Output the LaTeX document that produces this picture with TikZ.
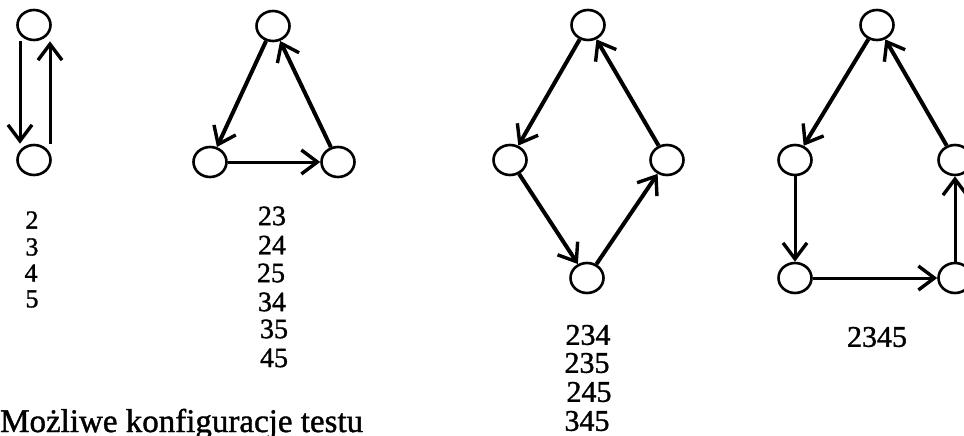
\documentclass[tikz,border=0pt]{standalone}
\usepackage{fontspec}
\setmainfont{Liberation Serif}
\newfontfamily\inkserif[FakeBold=1.2]{Liberation Serif}
\usetikzlibrary{arrows.meta,shapes.geometric}

\begin{document}
\begin{tikzpicture}[x=1pt,y=-1pt,
  vert/.style={draw, ellipse, line width=2.6pt, minimum width=33pt,
               minimum height=30pt, inner sep=0pt},
  edge/.style={line width=4pt,
               -{Straight Barb[length=16pt,width=24pt,line width=3.4pt]}},
  thinedge/.style={edge, line width=3pt},
  smalllbl/.style={font=\inkserif\fontsize{26}{28}\selectfont, inner sep=0pt},
  lbl/.style={font=\inkserif\fontsize{28}{30}\selectfont, inner sep=0pt},
  biglbl/.style={font=\inkserif\fontsize{30}{32}\selectfont, inner sep=0pt}]
\useasboundingbox (0,0) rectangle (964,436);

% two-node configuration
\node[vert] (p1) at (34,25) {};
\node[vert] (p2) at (34,160) {};
\draw[thinedge] ([xshift=-14pt]p1.south) -- ([xshift=-14pt]p2.north);
\draw[thinedge] ([xshift=16pt]p2.north) -- ([xshift=16pt]p1.south);

% three-node cycle
\node[vert] (t1) at (273,26) {};
\node[vert] (t2) at (210,162) {};
\node[vert] (t3) at (338,162) {};
\draw[edge] (t1) -- (t2);
\draw[thinedge] (t2) -- (t3);
\draw[edge] (t3) -- (t1);

% four-node cycle
\node[vert] (q1) at (588,25) {};
\node[vert] (q2) at (510,160) {};
\node[vert] (q3) at (587,278) {};
\node[vert] (q4) at (667,160) {};
\draw[edge] (q1) -- (q2);
\draw[edge] (q2) -- (q3);
\draw[edge] (q3) -- (q4);
\draw[edge] (q4) -- (q1);

% five-node cycle
\node[vert] (f1) at (877,25) {};
\node[vert] (f2) at (795,160) {};
\node[vert] (f3) at (795,278) {};
\node[vert] (f4) at (955,278) {};
\node[vert] (f5) at (955,160) {};
\draw[edge] (f1) -- (f2);
\draw[thinedge] (f2) -- (f3);
\draw[thinedge] (f3) -- (f4);
\draw[thinedge] (f4) -- (f5);
\draw[edge] (f5) -- (f1);

% label lists
\node[smalllbl] (a1) at (32,220) {2};
\node[smalllbl] (a2) at (32,247) {3};
\node[smalllbl] (a3) at (31,273) {4};
\node[smalllbl] (a4) at (32,299) {5};

\node[lbl] (b1) at (272,216) {23};
\node[lbl] (b2) at (272,245) {24};
\node[lbl] (b3) at (271,273) {25};
\node[lbl] (b4) at (272,302) {34};
\node[lbl] (b5) at (274,329) {35};
\node[lbl] (b6) at (274,358) {45};

\node[biglbl] (c1) at (588,335) {234};
\node[biglbl] (c2) at (587,363) {235};
\node[biglbl] (c3) at (589,392) {245};
\node[biglbl] (c4) at (587,421) {345};

\node[biglbl] (d1) at (877,337) {2345};

% caption
\node[font=\inkserif\fontsize{33}{36}\selectfont, inner sep=0pt, anchor=base west]
  (cap) at (0,432) {Możliwe konfiguracje testu};
\end{tikzpicture}
\end{document}
